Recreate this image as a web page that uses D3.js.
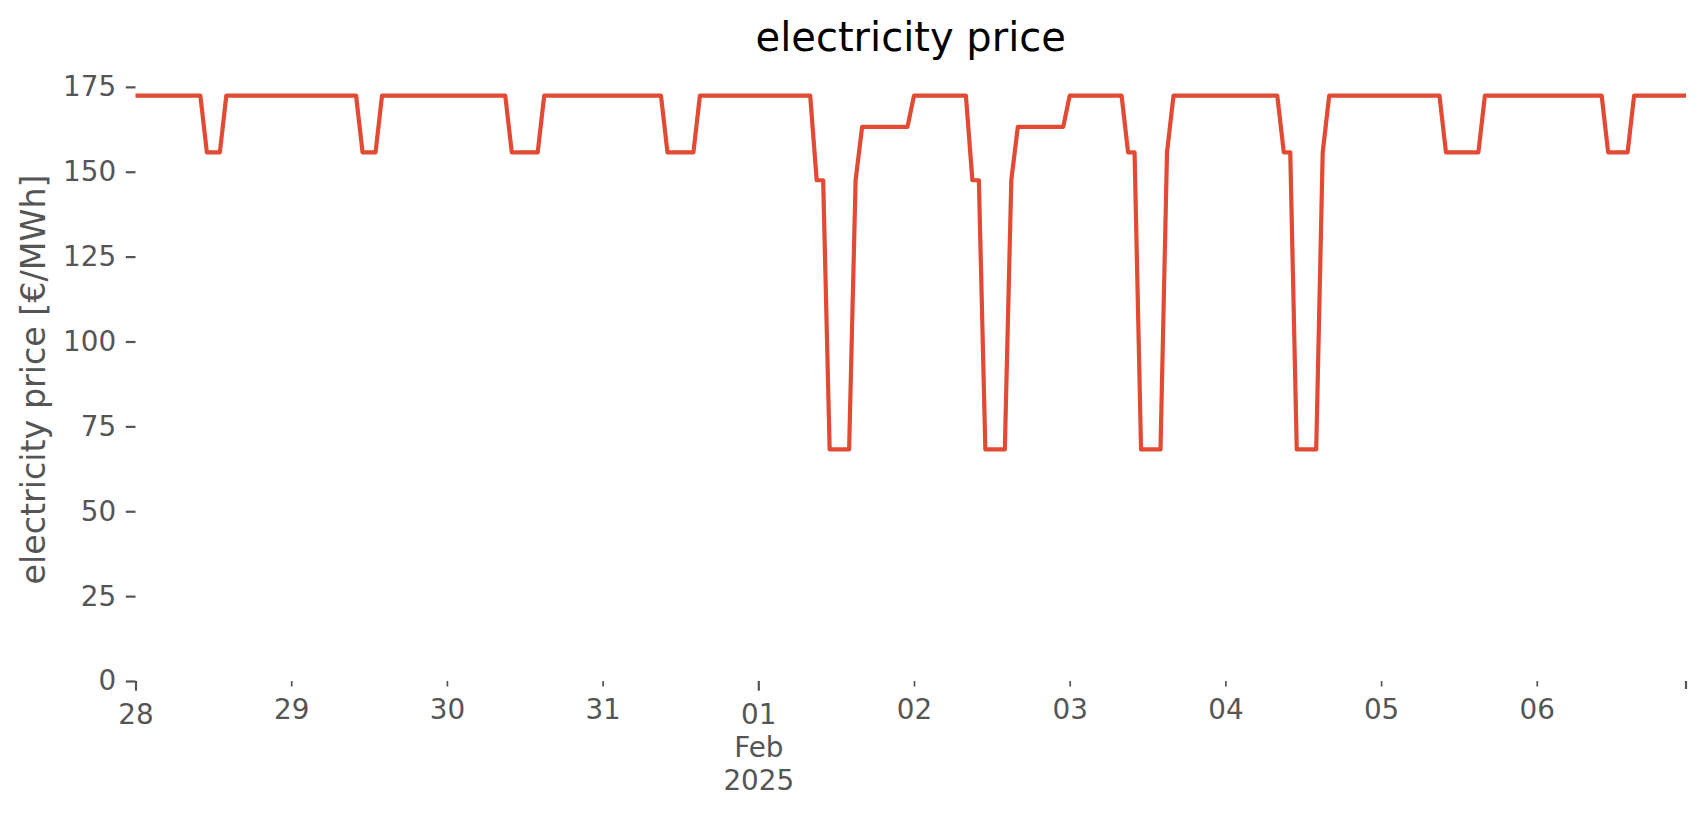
<!DOCTYPE html>
<html>
<head>
<meta charset="utf-8">
<script src="https://cdn.jsdelivr.net/npm/d3@7"></script>
<style>
  html, body { margin: 0; padding: 0; background: #fff; }
  svg { display: block; font-family: "DejaVu Sans", sans-serif; }
</style>
</head>
<body>
<svg id="chart" width="1706" height="815"></svg>
<script>
// ---- data: hourly electricity price [€/MWh], one array per day ----
const startDate = "2025-01-28T00:00:00Z";
const dayNames = ["jan28","jan29","jan30","jan31","feb01","feb02","feb03","feb04","feb05","feb06"];
const jan28 = [172.4,172.4,172.4,172.4,172.4,172.4,172.4,172.4,172.4,172.4,172.4,155.7,155.7,155.7,172.4,172.4,172.4,172.4,172.4,172.4,172.4,172.4,172.4,172.4];
const jan29 = [172.4,172.4,172.4,172.4,172.4,172.4,172.4,172.4,172.4,172.4,172.4,155.7,155.7,155.7,172.4,172.4,172.4,172.4,172.4,172.4,172.4,172.4,172.4,172.4];
const jan30 = [172.4,172.4,172.4,172.4,172.4,172.4,172.4,172.4,172.4,172.4,155.7,155.7,155.7,155.7,155.7,172.4,172.4,172.4,172.4,172.4,172.4,172.4,172.4,172.4];
const jan31 = [172.4,172.4,172.4,172.4,172.4,172.4,172.4,172.4,172.4,172.4,155.7,155.7,155.7,155.7,155.7,172.4,172.4,172.4,172.4,172.4,172.4,172.4,172.4,172.4];
const feb01 = [172.4,172.4,172.4,172.4,172.4,172.4,172.4,172.4,172.4,147.5,147.5,68.2,68.2,68.2,68.2,147.5,163.2,163.2,163.2,163.2,163.2,163.2,163.2,163.2];
const feb02 = [172.4,172.4,172.4,172.4,172.4,172.4,172.4,172.4,172.4,147.5,147.5,68.2,68.2,68.2,68.2,147.5,163.2,163.2,163.2,163.2,163.2,163.2,163.2,163.2];
const feb03 = [172.4,172.4,172.4,172.4,172.4,172.4,172.4,172.4,172.4,155.7,155.7,68.2,68.2,68.2,68.2,155.7,172.4,172.4,172.4,172.4,172.4,172.4,172.4,172.4];
const feb04 = [172.4,172.4,172.4,172.4,172.4,172.4,172.4,172.4,172.4,155.7,155.7,68.2,68.2,68.2,68.2,155.7,172.4,172.4,172.4,172.4,172.4,172.4,172.4,172.4];
const feb05 = [172.4,172.4,172.4,172.4,172.4,172.4,172.4,172.4,172.4,172.4,155.7,155.7,155.7,155.7,155.7,155.7,172.4,172.4,172.4,172.4,172.4,172.4,172.4,172.4];
const feb06 = [172.4,172.4,172.4,172.4,172.4,172.4,172.4,172.4,172.4,172.4,172.4,155.7,155.7,155.7,155.7,172.4,172.4,172.4,172.4,172.4,172.4,172.4,172.4,172.4];

const yTicks = [0, 25, 50, 75, 100, 125, 150, 175];
const xTickDates = ["2025-01-28","2025-01-29","2025-01-30","2025-01-31","2025-02-01","2025-02-02","2025-02-03","2025-02-04","2025-02-05","2025-02-06"];
const xTickLabels = ["28","29","30","31","01\nFeb\n2025","02","03","04","05","06"];
const xTickMajor = [true,false,false,false,true,false,false,false,false,false];
const titleText = "electricity price";
const yLabelText = "electricity price [€/MWh]";

// ---- build series ----
const dayArrays = [jan28,jan29,jan30,jan31,feb01,feb02,feb03,feb04,feb05,feb06];
const t0 = new Date(startDate).getTime();
const series = [];
dayArrays.forEach((arr, d) => arr.forEach((v, h) => {
  series.push({ date: new Date(t0 + (d * 24 + h) * 3600e3), value: v });
}));

// ---- layout ----
const L = 135.5, R = 1686, T = 78, B = 681;
const svg = d3.select("#chart");
const tickColor = "#555555";
const tickFont = 27.8;

const x = d3.scaleUtc()
  .domain(d3.extent(series, d => d.date))
  .range([L, R]);
const vals = series.map(d => d.value);
const vmin = d3.min(vals), vmax = d3.max(vals);
const y = d3.scaleLinear()
  .domain([0, vmax + 0.05 * (vmax - vmin)])
  .range([B, T]);

// ---- line ----
svg.append("path")
  .datum(series)
  .attr("fill", "none")
  .attr("stroke", "#E24A33")
  .attr("stroke-width", 4.2)
  .attr("stroke-linejoin", "round")
  .attr("stroke-linecap", "butt")
  .attr("d", d3.line().x(d => x(d.date)).y(d => y(d.value)));

// ---- y axis ----
const yAxis = svg.append("g")
  .attr("transform", `translate(${L},0)`)
  .call(d3.axisLeft(y).tickValues(yTicks).tickSize(9.7).tickPadding(9.7).tickFormat(d3.format("d")));
yAxis.select(".domain").remove();
yAxis.selectAll("line").attr("stroke", tickColor).attr("stroke-width", 2.2);
yAxis.selectAll("text").attr("fill", tickColor).style("font-size", tickFont + "px")
  .style("font-family", "'DejaVu Sans', sans-serif");

// ---- x axis (major + minor ticks) ----
function drawX(isMajor, size, pad) {
  const vals = xTickDates.map(s => new Date(s + "T00:00:00Z")).filter((d, i) => xTickMajor[i] === isMajor);
  const labs = xTickLabels.filter((d, i) => xTickMajor[i] === isMajor);
  const g = svg.append("g")
    .attr("transform", `translate(0,${B})`)
    .call(d3.axisBottom(x).tickValues(vals).tickSize(size).tickPadding(pad)
      .tickFormat((d, i) => labs[i]));
  g.select(".domain").remove();
  g.selectAll("line").attr("stroke", tickColor).attr("stroke-width", isMajor ? 2.2 : 1.7);
  g.selectAll("text").attr("fill", tickColor).style("font-size", tickFont + "px")
    .style("font-family", "'DejaVu Sans', sans-serif")
    .each(function(d, i) {
      const parts = labs[i].split("\n");
      if (parts.length > 1) {
        const t = d3.select(this);
        t.text(null);
        parts.forEach((p, k) => {
          t.append("tspan").attr("x", 0).attr("dy", k === 0 ? "0.71em" : "1.2em").text(p);
        });
        t.attr("dy", null);
      }
    });
  return g;
}
drawX(true, 9.7, 13.3);
drawX(false, 5.5, 12.8);

// end tick at the right limit of the x range
svg.append("line")
  .attr("x1", x.range()[1]).attr("x2", x.range()[1])
  .attr("y1", B).attr("y2", B + 8)
  .attr("stroke", tickColor).attr("stroke-width", 2.2);

// ---- title ----
svg.append("text")
  .attr("x", (L + R) / 2).attr("y", 51)
  .attr("text-anchor", "middle")
  .attr("fill", "#000")
  .style("font-size", "40px")
  .text(titleText);

// ---- y label ----
svg.append("text")
  .attr("transform", `translate(45,${(T + B) / 2}) rotate(-90)`)
  .attr("text-anchor", "middle")
  .attr("fill", tickColor)
  .style("font-size", "33.3px")
  .text(yLabelText);
</script>
</body>
</html>
